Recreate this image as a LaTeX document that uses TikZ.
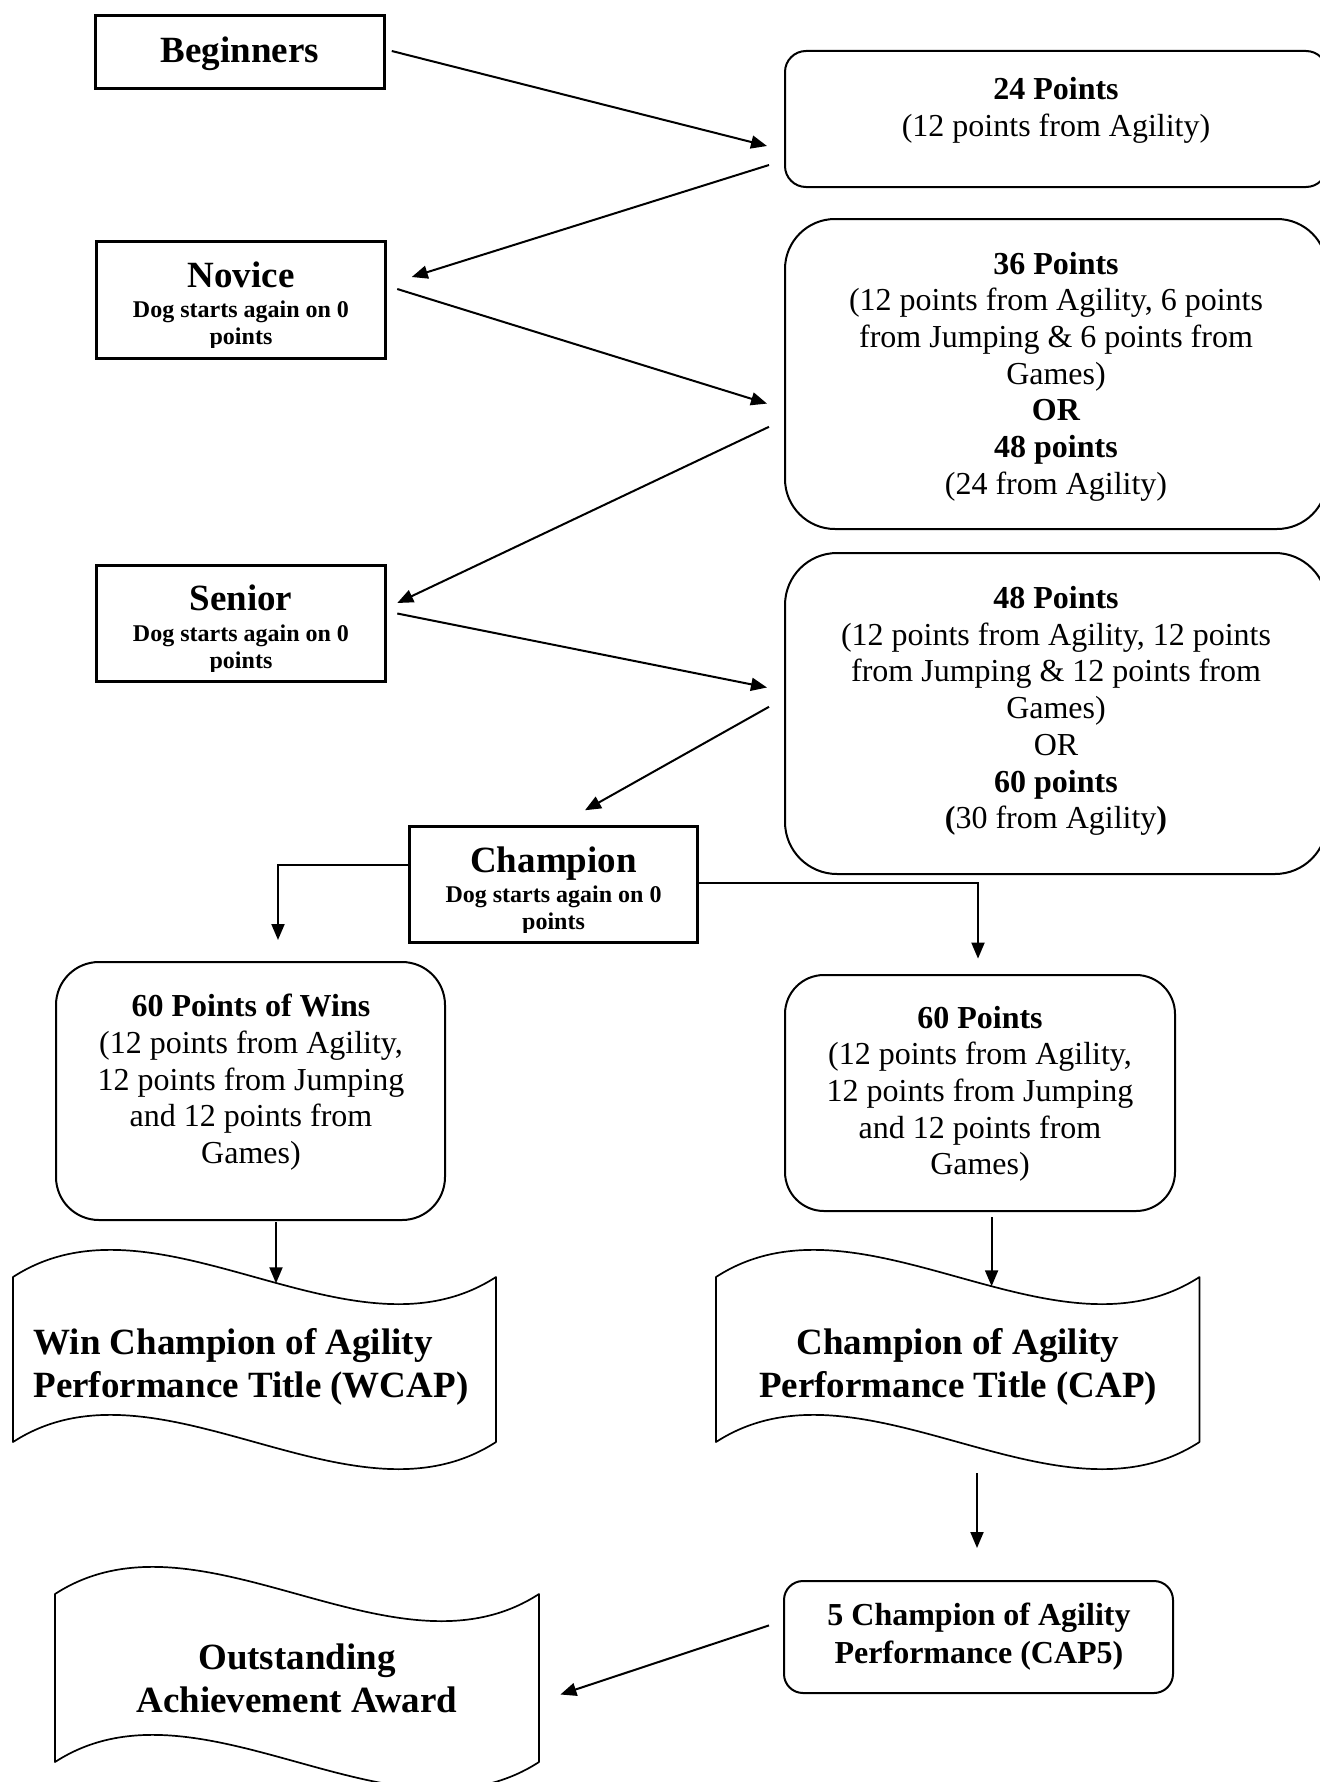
\documentclass[tikz,border=0pt]{standalone}
\usepackage{fontspec}
\setmainfont{Liberation Serif}
\usetikzlibrary{arrows.meta}
\newcommand\txtrows[1]{\begin{tabular}{@{}c@{}}#1\end{tabular}}
\newcommand\txtrowsleft[1]{\begin{tabular}{@{}l@{}}#1\end{tabular}}

\begin{document}
\begin{tikzpicture}[x=0.5pt,y=-0.5pt,
  stage/.style={draw, line width=1.75pt, rectangle, inner sep=0pt},
  pts/.style={draw, line width=1pt, rectangle, inner sep=0pt},
  tapebox/.style={rectangle, inner sep=0pt},
  wave/.style={line width=0.85pt, line join=round},
  arr/.style={line width=1pt, -{Triangle[length=8pt,width=6.5pt]}},
  body/.style={font=\fontsize{16}{18.35}\selectfont, inner sep=0pt, anchor=north},
  head/.style={font=\bfseries\fontsize{18.5}{21}\selectfont, inner sep=0pt, anchor=base},
  small/.style={font=\bfseries\fontsize{12}{13.5}\selectfont, inner sep=0pt, anchor=north},
  title/.style={font=\bfseries\fontsize{18.5}{21.5}\selectfont, inner sep=0pt, anchor=north},
  award/.style={font=\bfseries\fontsize{16}{19}\selectfont, inner sep=0pt, anchor=north},
]
\useasboundingbox (0,0) rectangle (1320,1782);
\fill[white] (0,0) rectangle (1320,1782);

% ---------- grade boxes (left column) ----------
\node[stage, minimum width=289*0.5pt, minimum height=73*0.5pt] (beg) at (240,52) {};
\node[head] (begT) at (240,63) {Beginners};

\node[stage, minimum width=289*0.5pt, minimum height=117*0.5pt] (nov) at (241,300) {};
\node[head] (novT) at (241,287) {Novice};
\begin{scope}
  \clip (nov.north west) rectangle ([shift={(0,-12.5)}]nov.south east);
  \node[small] (novS) at (241,298.1) {\txtrows{Dog starts again on 0\\points}};
\end{scope}

\node[stage, minimum width=289*0.5pt, minimum height=116*0.5pt] (sen) at (241,623.5) {};
\node[head] (senT) at (241,610.5) {Senior};
\begin{scope}
  \clip (sen.north west) rectangle ([shift={(0,-11.5)}]sen.south east);
  \node[small] (senS) at (241,622.1) {\txtrows{Dog starts again on 0\\points}};
\end{scope}

\node[stage, minimum width=288*0.5pt, minimum height=116*0.5pt] (cha) at (553.5,884.5) {};
\node[head] (chaT) at (553.5,872.5) {Champion};
\begin{scope}
  \clip (cha.north west) rectangle ([shift={(0,-11.5)}]cha.south east);
  \node[small] (chaS) at (553.5,883.1) {\txtrows{Dog starts again on 0\\points}};
\end{scope}

% ---------- points requirements (right column) ----------
\node[pts, rounded corners=21*0.5pt, minimum width=542*0.5pt, minimum height=136*0.5pt] (p24) at (1056,119) {};
\node[body] (p24T) at (1056,73.5) {\txtrows{\textbf{24 Points}\\(12 points from Agility)}};

\node[pts, rounded corners=50*0.5pt, minimum width=542*0.5pt, minimum height=310*0.5pt] (p36) at (1056,374) {};
\node[body] (p36T) at (1056,248) {\txtrows{\textbf{36 Points}\\(12 points from Agility, 6 points\\from Jumping \& 6 points from\\Games)\\\textbf{OR}\\\textbf{48 points}\\(24 from Agility)}};

\node[pts, rounded corners=52*0.5pt, minimum width=542*0.5pt, minimum height=321*0.5pt] (p48) at (1056,713.5) {};
\node[body] (p48T) at (1056,582.5) {\txtrows{\textbf{48 Points}\\(12 points from Agility, 12 points\\from Jumping \& 12 points from\\Games)\\OR\\\textbf{60 points}\\\textbf{(}30 from Agility\textbf{)}}};

\node[pts, rounded corners=43*0.5pt, minimum width=389*0.5pt, minimum height=258*0.5pt] (w60) at (250.5,1091) {};
\node[body] (w60T) at (251,990.5) {\txtrows{\textbf{60 Points of Wins}\\(12 points from Agility,\\12 points from Jumping\\and 12 points from\\Games)}};

\node[pts, rounded corners=39*0.5pt, minimum width=390*0.5pt, minimum height=236*0.5pt] (c60) at (980,1093) {};
\node[body] (c60T) at (980,1002) {\txtrows{\textbf{60 Points}\\(12 points from Agility,\\12 points from Jumping\\and 12 points from\\Games)}};

\node[pts, rounded corners=19*0.5pt, minimum width=389*0.5pt, minimum height=112*0.5pt] (cap5) at (978.5,1637) {};
\node[award] (cap5T) at (979,1598) {\txtrows{5 Champion of Agility\\Performance (CAP5)}};

% ---------- title tapes ----------
\node[tapebox, minimum width=483*0.5pt, minimum height=165*0.5pt] (wcap) at (254.5,1359.5) {};
\draw[wave] (13,1277) .. controls (158,1183) and (351,1371) .. coordinate[pos=0.545] (wcapIn) (496,1277)
  -- (496,1442) .. controls (351,1536) and (158,1348) .. (13,1442) -- cycle;
\node[title, anchor=north west] (wcapT) at (33,1323.5) {\txtrowsleft{Win Champion of Agility\\Performance Title (WCAP)}};

\node[tapebox, minimum width=483.5*0.5pt, minimum height=165*0.5pt] (cap) at (957.75,1359.5) {};
\draw[wave] (716,1277) .. controls (861,1183) and (1054.5,1371) .. coordinate[pos=0.567] (capIn) (1199.5,1277)
  -- (1199.5,1442) .. controls (1054.5,1536) and (861,1348) .. (716,1442) -- cycle;
\node[title] (capT) at (958,1323.5) {\txtrows{Champion of Agility\\Performance Title (CAP)}};

\node[tapebox, minimum width=484*0.5pt, minimum height=168*0.5pt] (oaa) at (297,1678) {};
\draw[wave] (55,1594) .. controls (200,1500) and (394,1688) .. (539,1594)
  -- (539,1762) .. controls (394,1856) and (200,1668) .. (55,1762) -- cycle;
\node[title] (oaaT) at (297,1639) {\txtrows{Outstanding\\Achievement Award}};

% ---------- connectors ----------
\draw[arr] ([shift={(5.5,-1)}]beg.east) -- ([shift={(-17,27)}]p24.west);
\draw[arr] ([shift={(-15,46)}]p24.west) -- ([shift={(24.5,-23)}]nov.east);
\draw[arr] ([shift={(10,-11)}]nov.east) -- ([shift={(-17,29.6)}]p36.west);
\draw[arr] ([shift={(-15,52.8)}]p36.west) -- ([shift={(10,-20.5)}]sen.east);
\draw[arr] ([shift={(10,-10)}]sen.east) -- ([shift={(-17,-26)}]p48.west);
\draw[arr] ([shift={(-15,-6.7)}]p48.west) -- ([shift={(31.5,-14.5)}]cha.north);
\draw[arr] ([shift={(0,-19.5)}]cha.west) -| ([shift={(27.5,-21)}]w60.north);
\draw[arr] ([shift={(0,-2)}]cha.east) -| ([shift={(-2,-15.4)}]c60.north);
\coordinate (wStart) at ([shift={(25.5,1)}]w60.south);
\draw[arr] (wStart) -- (wStart |- wcapIn);
\coordinate (cStart) at ([shift={(11.6,5)}]c60.south);
\draw[arr] (cStart) -- (cStart |- capIn);
\draw[arr] ([shift={(19.25,31)}]cap.south) -- ([shift={(-1.5,-32)}]cap5.north);
\draw[arr] ([shift={(-14,-11.6)}]cap5.west) -- ([shift={(21,16.5)}]oaa.east);
\end{tikzpicture}
\end{document}
